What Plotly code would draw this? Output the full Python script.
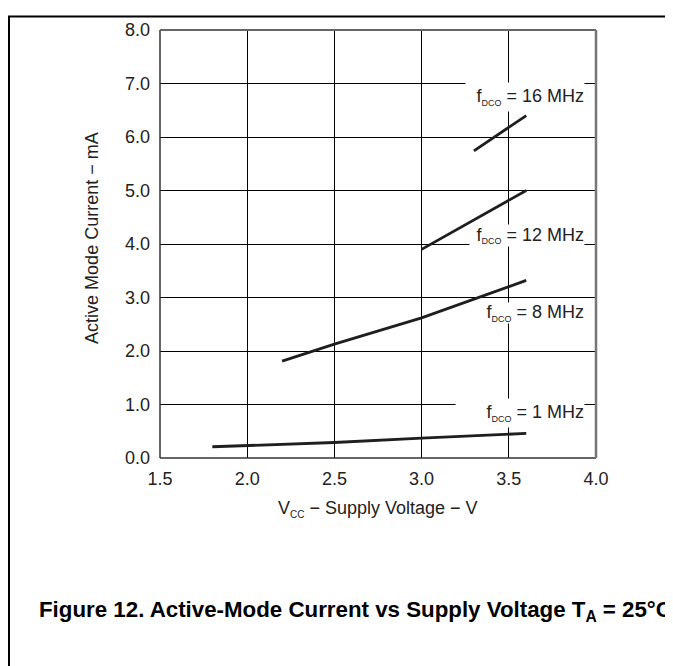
import plotly.graph_objects as go

# Data
v_1mhz = [1.8, 2.5, 3.0, 3.6]
i_1mhz = [0.21, 0.29, 0.37, 0.46]
v_8mhz = [2.2, 2.5, 3.0, 3.5, 3.6]
i_8mhz = [1.81, 2.13, 2.62, 3.20, 3.32]
v_12mhz = [3.0, 3.6]
i_12mhz = [3.90, 5.00]
v_16mhz = [3.3, 3.6]
i_16mhz = [5.74, 6.40]

x_ticks = [1.5, 2.0, 2.5, 3.0, 3.5, 4.0]
y_ticks = [0, 1, 2, 3, 4, 5, 6, 7, 8]
series_labels = ["16", "12", "8", "1"]

W, H = 673, 666
OFF = 8  # page body margin
L, R, T, B = 160 - OFF, 596 - OFF, 22.7 - OFF, 457.7 - OFF
FONT = "Arial, 'Liberation Sans', Helvetica, sans-serif"


def px_x(p):
    return (p - OFF - L) / (R - L)


def px_y(p):
    return (B - (p - OFF)) / (B - T)


fig = go.Figure()
for vx, iy in [(v_1mhz, i_1mhz), (v_8mhz, i_8mhz), (v_12mhz, i_12mhz), (v_16mhz, i_16mhz)]:
    fig.add_trace(go.Scatter(x=vx, y=iy, mode="lines",
                             line=dict(color="#1e1e1e", width=2.8),
                             showlegend=False, hoverinfo="skip"))

axis_common = dict(showgrid=True, gridcolor="#000000", gridwidth=1,
                   zeroline=False, showline=False, ticks="",
                   tickfont=dict(family=FONT, size=18, color="#222222"))

fig.update_xaxes(range=[1.5, 4.0], tickvals=x_ticks,
                 ticktext=[f"{v:.1f}" for v in x_ticks],
                 ticklabelstandoff=8, **axis_common)
fig.update_yaxes(range=[0, 8], tickvals=y_ticks,
                 ticktext=[f"{v:.1f}" for v in y_ticks],
                 ticklabelstandoff=9, **axis_common)

shapes = [
    # plot frame
    dict(type="line", xref="paper", yref="paper", x0=0, x1=0, y0=0, y1=1,
         line=dict(color="#333333", width=1.5)),
    dict(type="line", xref="paper", yref="paper", x0=0, x1=1, y0=0, y1=0,
         line=dict(color="#333333", width=1.5)),
    dict(type="line", xref="paper", yref="paper", x0=0, x1=1, y0=1, y1=1,
         line=dict(color="#666666", width=2)),
    dict(type="line", xref="paper", yref="paper", x0=1, x1=1, y0=0, y1=1,
         line=dict(color="#777777", width=2.5)),
    # page border lines
    dict(type="line", xref="paper", yref="paper", x0=px_x(9), x1=px_x(9),
         y0=px_y(9), y1=px_y(700), line=dict(color="#000000", width=2)),
    dict(type="line", xref="paper", yref="paper", x0=px_x(8), x1=px_x(700),
         y0=px_y(9), y1=px_y(9), line=dict(color="#000000", width=2)),
]

annotations = []
label_boxes = [(91, 118, 28), (232, 114, 21), (310, 114, 20), (412, 128, 28)]
for lab, (cy, bw, bh) in zip(series_labels, label_boxes):
    annotations.append(dict(
        xref="paper", yref="paper", x=px_x(585), y=px_y(cy),
        xanchor="right", yanchor="middle", showarrow=False,
        text=f"f<sub><span style='font-size:9px'>DCO</span></sub> = {lab} MHz",
        font=dict(family=FONT, size=18, color="#222222"),
        bgcolor="#ffffff", width=bw, height=bh, align="right", borderpad=0))

annotations.append(dict(
    xref="paper", yref="paper", x=px_x(92), y=px_y(234),
    xanchor="center", yanchor="middle", showarrow=False, textangle=-90,
    text="Active Mode Current − mA",
    font=dict(family=FONT, size=18, color="#222222")))
annotations.append(dict(
    xref="paper", yref="paper", x=px_x(378), y=px_y(510),
    xanchor="center", yanchor="middle", showarrow=False,
    text="V<sub><span style='font-size:10px'>CC</span></sub> − Supply Voltage − V",
    font=dict(family=FONT, size=18, color="#222222")))
annotations.append(dict(
    xref="paper", yref="paper", x=px_x(37), y=px_y(613),
    xanchor="left", yanchor="middle", showarrow=False,
    text="<b>Figure 12. Active-Mode Current vs Supply Voltage T<sub>A</sub> = 25°C</b>",
    font=dict(family=FONT, size=22.3, color="#000000")))

fig.update_layout(
    width=W, height=H,
    margin=dict(l=L, r=W - R, t=T, b=H - B, pad=0),
    paper_bgcolor="#ffffff", plot_bgcolor="#ffffff",
    shapes=shapes, annotations=annotations,
    font=dict(family=FONT),
)

fig.write_html("out.html")
